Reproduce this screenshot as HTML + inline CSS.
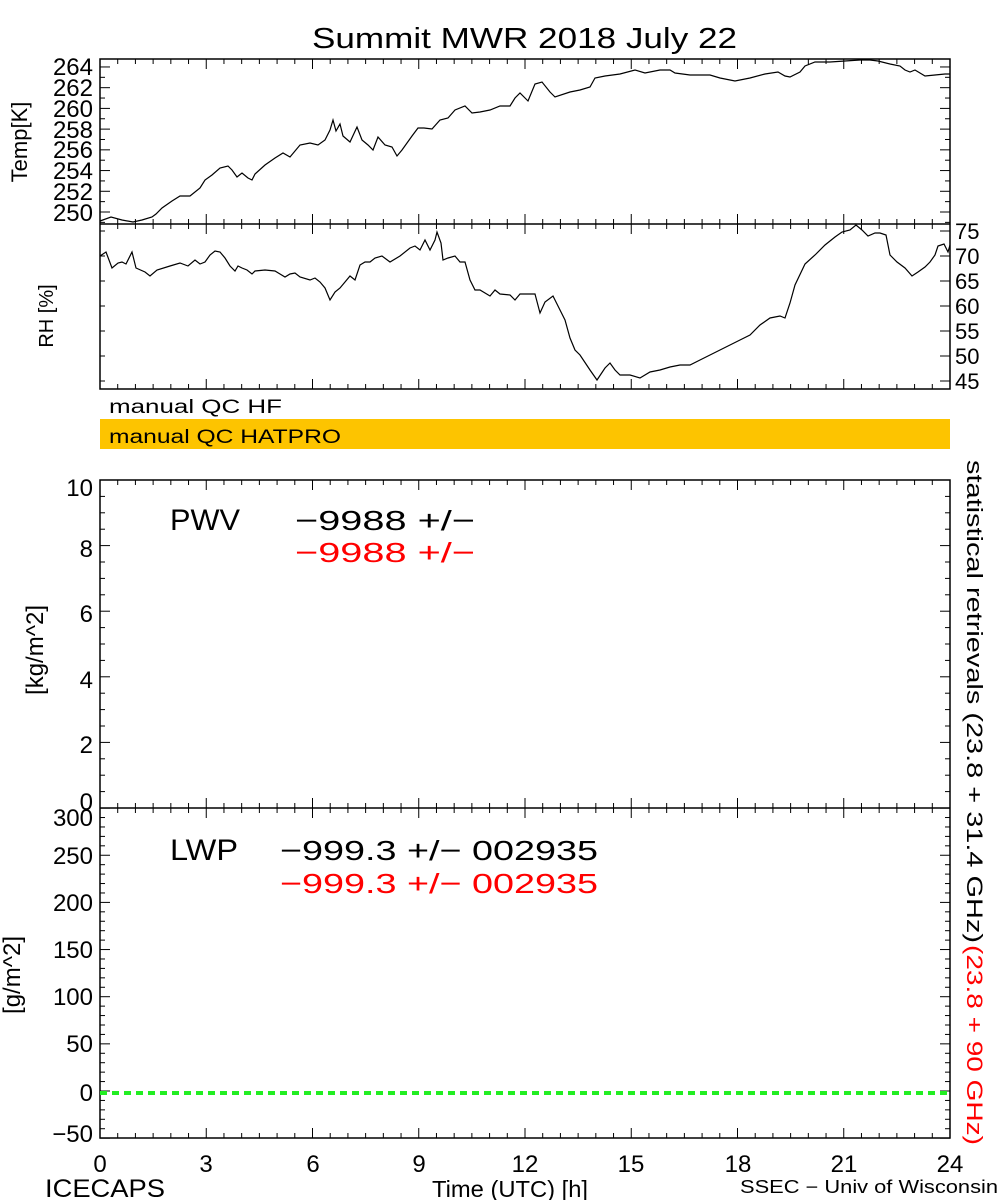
<!DOCTYPE html>
<html><head><meta charset="utf-8"><style>
html,body{margin:0;padding:0;background:#fff;}
svg{display:block;font-family:"Liberation Sans",sans-serif;}
</style></head><body>
<svg id="s" width="1000" height="1200" viewBox="0 0 1000 1200" xmlns="http://www.w3.org/2000/svg">
<rect width="1000" height="1200" fill="#fff"/>
<text x="312" y="48" font-size="29" textLength="425" lengthAdjust="spacingAndGlyphs">Summit MWR 2018 July 22</text>
<rect x="100" y="59" width="850" height="330" fill="none" stroke="#000" stroke-width="1.5"/>
<line x1="100" y1="224" x2="950" y2="224" stroke="#000" stroke-width="1.5"/>
<rect x="100" y="480" width="850" height="658" fill="none" stroke="#000" stroke-width="1.5"/>
<line x1="100" y1="808" x2="950" y2="808" stroke="#000" stroke-width="1.5"/>
<g id="ticks" stroke="#000" stroke-width="1"></g>
<g font-size="24" text-anchor="end">
<text x="93" y="75">264</text><text x="93" y="96">262</text><text x="93" y="117">260</text><text x="93" y="138">258</text><text x="93" y="158">256</text><text x="93" y="179">254</text><text x="93" y="200">252</text><text x="93" y="221">250</text>
</g>
<text transform="translate(27,142) rotate(-90)" font-size="22" text-anchor="middle">Temp[K]</text>
<g font-size="22" text-anchor="start">
<text x="955" y="239">75</text><text x="955" y="264">70</text><text x="955" y="289">65</text><text x="955" y="314">60</text><text x="955" y="339">55</text><text x="955" y="364">50</text><text x="955" y="389">45</text>
</g>
<text transform="translate(53,316) rotate(-90)" font-size="20" text-anchor="middle">RH [%]</text>
<polyline fill="none" stroke="#000" stroke-width="1.2" points="100,221 111,217 122,220 133,222 142,220 152,217 156,214 162,208 172,201 180,196 190,196 200,188 205,180 212,175 220,168 228,166 232,170 237,177 242,173 248,178 252,180 255,174 265,165 275,158 283,153 290,157 300,145 310,143 318,145 325,140 330,130 333,120 336,131 340,124 343,136 350,142 357,127 362,140 368,145 373,150 378,137 385,145 392,147 397,156 402,150 412,136 418,128 424,128 432,129 440,120 448,118 455,110 465,106 472,113 480,112 490,110 500,106 510,106 515,98 520,93 528,101 535,84 542,82 550,92 555,97 570,92 580,90 590,87 595,78 605,76 620,74 635,70 645,73 660,70 670,70 675,73 690,75 710,75 720,78 735,81 750,78 765,74 778,72 785,76 790,77 800,72 805,66 815,62 830,62 845,61 860,60 870,60 878,61 890,64 900,66 905,70 910,72 915,70 925,76 935,75 945,74 950,74"/>
<polyline fill="none" stroke="#000" stroke-width="1.2" points="100,256 106,252 112,268 118,263 122,262 126,264 132,252 136,268 145,272 150,276 157,270 170,266 180,263 188,266 195,260 200,264 205,262 210,255 215,251 220,252 225,258 230,266 235,271 238,266 242,268 247,270 252,274 255,271 265,270 275,271 280,274 285,277 290,274 295,273 300,277 310,280 315,278 320,282 325,288 330,300 335,292 340,288 345,282 350,276 355,280 360,265 365,262 370,262 375,258 382,256 390,262 400,256 410,248 415,246 420,250 425,240 430,250 435,240 437,232 441,243 443,260 448,258 455,256 460,262 465,262 470,280 475,290 480,290 490,296 495,290 500,294 510,295 515,300 520,294 535,294 540,313 545,302 553,296 560,310 565,320 570,338 575,350 580,355 590,370 597,380 605,368 610,363 615,370 620,375 630,375 640,378 650,372 660,370 670,367 680,365 690,365 700,360 710,355 720,350 730,345 740,340 750,335 760,325 770,318 780,316 785,318 790,303 795,285 805,264 815,255 825,245 835,237 842,232 850,230 856,225 862,230 868,236 875,233 880,233 886,235 890,255 897,262 905,268 912,276 918,272 925,267 930,262 935,255 938,246 944,244 948,252 950,245"/>
<text x="109" y="413" font-size="19" textLength="173" lengthAdjust="spacingAndGlyphs">manual QC HF</text>
<rect x="100" y="419" width="850" height="30" fill="#fdc400"/>
<text x="109" y="443" font-size="19" textLength="232" lengthAdjust="spacingAndGlyphs">manual QC HATPRO</text>
<g font-size="24" text-anchor="end">
<text x="93" y="496">10</text><text x="93" y="557">8</text><text x="93" y="622">6</text><text x="93" y="688">4</text><text x="93" y="753">2</text><text x="93" y="810">0</text>
</g>
<text transform="translate(43,650) rotate(-90)" font-size="24" text-anchor="middle">[kg/m^2]</text>
<text x="170" y="530" font-size="30" textLength="70" lengthAdjust="spacingAndGlyphs">PWV</text>
<text x="295" y="530" font-size="28" textLength="180" lengthAdjust="spacingAndGlyphs">−9988 +/−</text>
<text x="295" y="562" font-size="28" fill="#ff0000" textLength="180" lengthAdjust="spacingAndGlyphs">−9988 +/−</text>
<g font-size="24" text-anchor="end">
<text x="93" y="826">300</text><text x="93" y="864">250</text><text x="93" y="911">200</text><text x="93" y="958">150</text><text x="93" y="1005">100</text><text x="93" y="1052">50</text><text x="93" y="1101">0</text><text x="93" y="1142">−50</text>
</g>
<text transform="translate(20,975) rotate(-90)" font-size="24" text-anchor="middle">[g/m^2]</text>
<text x="170" y="860" font-size="30" textLength="68" lengthAdjust="spacingAndGlyphs">LWP</text>
<text x="280" y="860" font-size="28" textLength="318" lengthAdjust="spacingAndGlyphs">−999.3 +/− 002935</text>
<text x="280" y="893" font-size="28" fill="#ff0000" textLength="318" lengthAdjust="spacingAndGlyphs">−999.3 +/− 002935</text>
<line x1="100" y1="1093" x2="950" y2="1093" stroke="#22ee22" stroke-width="4" stroke-dasharray="7,5"/>
<text transform="translate(967,460) rotate(90)" font-size="22" textLength="483" lengthAdjust="spacingAndGlyphs">statistical retrievals (23.8 + 31.4 GHz)</text>
<text transform="translate(967,945) rotate(90)" font-size="22" fill="#ff0000" textLength="200" lengthAdjust="spacingAndGlyphs">(23.8 + 90 GHz)</text>
<g font-size="24" text-anchor="middle">
<text x="100" y="1172">0</text><text x="206" y="1172">3</text><text x="313" y="1172">6</text><text x="419" y="1172">9</text><text x="525" y="1172">12</text><text x="631" y="1172">15</text><text x="738" y="1172">18</text><text x="844" y="1172">21</text><text x="950" y="1172">24</text>
</g>
<text x="45" y="1197" font-size="25" textLength="120" lengthAdjust="spacingAndGlyphs">ICECAPS</text>
<text x="432" y="1197" font-size="23" textLength="156" lengthAdjust="spacingAndGlyphs">Time (UTC) [h]</text>
<text x="740" y="1193" font-size="18" textLength="258" lengthAdjust="spacingAndGlyphs">SSEC − Univ of Wisconsin</text>
</svg>
<script>
var g=document.getElementById('ticks'),o='';
function L(a,b,c,d){o+='<line x1="'+a+'" y1="'+b+'" x2="'+c+'" y2="'+d+'"/>';}
var tops=[59,224,480,808],bots=[224,389,808,1138];
for(var i=0;i<=48;i++){var x=100+i*850/48,maj=(i%6==0),l=maj?10:5;
 for(var p=0;p<4;p++){L(x,bots[p],x,bots[p]-l);L(x,tops[p],x,tops[p]+l);}}
for(var k=249;k<=264;k++){var y=212-(k-250)*10.36,l=(k%2==0)?10:5;L(100,y,100+l,y);L(950,y,950-l,y);}
for(var r=45;r<=75;r+=5){var y=381-(r-45)*5;L(100,y,105,y);L(950,y,940,y);}
for(var v=0;v<=10;v+=0.5){var y=808-v*32.8,l=(v%2==0)?10:5;L(100,y,100+l,y);L(950,y,950-l,y);}
for(var w=-50;w<=300;w+=10){var y=1091-w*0.943,l=(w%50==0)?10:5;L(100,y,100+l,y);L(950,y,950-l,y);}
g.innerHTML=o;
</script>
</body></html>
